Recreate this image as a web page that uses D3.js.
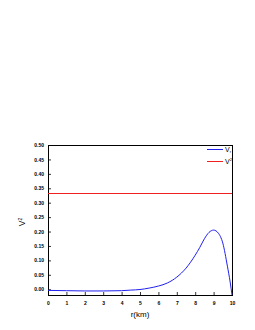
<!DOCTYPE html>
<html>
<head>
<meta charset="utf-8">
<script src="https://cdn.jsdelivr.net/npm/d3@7"></script>
<style>
  body { margin: 0; background: #fff; }
  text { font-family: "Liberation Sans", Arial, sans-serif; }
</style>
</head>
<body>
<svg id="chart" width="255" height="330"></svg>
<script>
  // values
  var rValues = [0, 1, 2, 3, 4, 4.5, 5, 5.5, 6, 6.5, 7, 7.5, 8, 8.25, 8.5, 8.75, 9, 9.25, 9.5, 9.75, 9.9, 10];
  var vrValues = [-0.004, -0.005, -0.006, -0.006, -0.005, -0.003, -0.001, 0.004, 0.011, 0.022, 0.042, 0.073, 0.118, 0.145, 0.175, 0.197, 0.205, 0.195, 0.16, 0.08, 0.025, -0.02];
  var vtValue = 1 / 3;
  var xTicks = [0, 1, 2, 3, 4, 5, 6, 7, 8, 9, 10];
  var yTicks = [0, 0.05, 0.1, 0.15, 0.2, 0.25, 0.3, 0.35, 0.4, 0.45, 0.5];

  var svg = d3.select("#chart");

  var x = d3.scaleLinear().domain([0, 10]).range([48, 232]);
  var y = d3.scaleLinear().domain([-0.02, 0.5]).range([295, 145]);

  // frame
  svg.append("rect")
      .attr("x", x(0))
      .attr("y", y(0.5))
      .attr("width", x(10) - x(0))
      .attr("height", y(-0.02) - y(0.5))
      .attr("fill", "none")
      .attr("stroke", "#000")
      .attr("stroke-width", 1)
      .attr("shape-rendering", "crispEdges");

  // x axis, ticks pointing inward
  var gx = svg.append("g").attr("transform", "translate(0," + y(-0.02) + ")");
  gx.call(d3.axisBottom(x).tickValues(d3.range(0.5, 10, 1)).tickSize(-1.5).tickFormat(""))
    .select(".domain").remove();
  gx.call(d3.axisBottom(x).tickValues(xTicks).tickSize(-3).tickPadding(5).tickFormat(d3.format("d")))
    .select(".domain").remove();
  gx.selectAll("text")
      .attr("font-size", "5px")
      .attr("font-weight", "bold")
      .attr("font-family", "'Liberation Sans', Arial, sans-serif")
      .attr("dy", "0.9em");

  // y axis, ticks pointing inward
  var gy = svg.append("g").attr("transform", "translate(" + x(0) + ",0)");
  gy.call(d3.axisLeft(y).tickValues(d3.range(0.025, 0.5, 0.05)).tickSize(-1.5).tickFormat(""))
    .select(".domain").remove();
  gy.call(d3.axisLeft(y).tickValues(yTicks).tickSize(-3).tickPadding(4).tickFormat(d3.format(".2f")))
    .select(".domain").remove();
  gy.selectAll("text")
      .attr("font-size", "5px")
      .attr("font-weight", "bold")
      .attr("font-family", "'Liberation Sans', Arial, sans-serif");
  svg.selectAll(".tick line").attr("stroke", "#000").attr("stroke-width", 0.8);

  // V_t line
  svg.append("line")
      .attr("x1", x(0))
      .attr("x2", x(10))
      .attr("y1", y(vtValue))
      .attr("y2", y(vtValue))
      .attr("stroke", "#f02020")
      .attr("stroke-width", 1)
      .attr("shape-rendering", "crispEdges");

  // V_r curve
  var line = d3.line()
      .x(function(d, i) { return x(rValues[i]); })
      .y(function(d) { return y(d); })
      .curve(d3.curveMonotoneX);

  svg.append("path")
      .datum(vrValues)
      .attr("d", line)
      .attr("fill", "none")
      .attr("stroke", "#2020f0")
      .attr("stroke-width", 1);

  // legend
  var legend = [
    { color: "#2020f0", sub: "r", sup: null },
    { color: "#f02020", sub: null, sup: "2" }
  ];
  legend.forEach(function(d, i) {
    var ly = 149 + i * 12;
    svg.append("line")
        .attr("x1", 207).attr("x2", 223)
        .attr("y1", ly).attr("y2", ly)
        .attr("stroke", d.color)
        .attr("stroke-width", 1)
        .attr("shape-rendering", "crispEdges");
    var t = svg.append("text")
        .attr("x", 225)
        .attr("y", ly + 2.5)
        .attr("font-size", "7px")
        .text("V");
    if (d.sub) t.append("tspan").attr("font-size", "4px").attr("dy", "1.5").text(d.sub);
    if (d.sup) t.append("tspan").attr("font-size", "4px").attr("dy", "-3").text(d.sup);
  });

  // axis titles
  svg.append("text")
      .attr("x", 140)
      .attr("y", 317)
      .attr("text-anchor", "middle")
      .attr("font-size", "8px")
      .text("r(km)");

  var yt = svg.append("text")
      .attr("transform", "translate(25,222) rotate(-90)")
      .attr("text-anchor", "middle")
      .attr("font-size", "8.5px")
      .text("V");
  yt.append("tspan").attr("font-size", "5px").attr("dy", "-3.5").text("2");
</script>
</body>
</html>
